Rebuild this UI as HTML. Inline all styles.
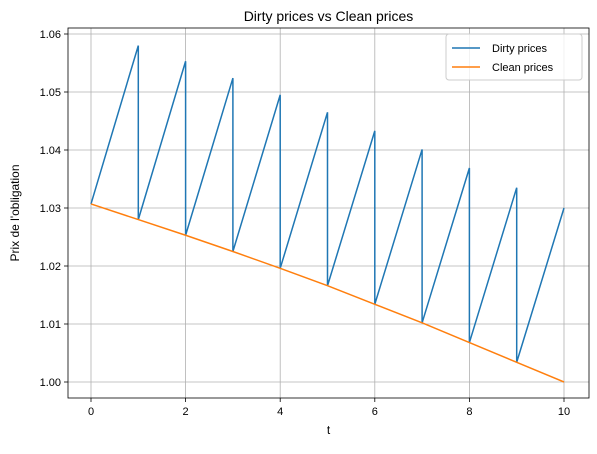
<!DOCTYPE html>
<html><head><meta charset="utf-8"><style>
body{margin:0;background:#fff;}
svg text{font-family:"Liberation Sans","DejaVu Sans",sans-serif;}
</style></head><body>
<svg id="chart" width="597" height="449">
</svg>
<script>
const tVals=[0,1,2,3,4,5,6,7,8,9,10];
const cleanPrices=[1.0307,1.0280,1.0253,1.0225,1.0196,1.0166,1.0134,1.0102,1.0068,1.0034,1.0000];
const dirtyPeaks=[1.0580,1.0553,1.0524,1.0495,1.0465,1.0433,1.0401,1.0369,1.0335,1.0300];
const xTicks=[0,2,4,6,8,10];
const yTicks=[1.00,1.01,1.02,1.03,1.04,1.05,1.06];

const L=68,R=589,T=28,B=398;
const X=v=>91+(v-0)*(564-91)/10;
const Y=v=>382-(v-1.00)*(382-34)/0.06;
const svg=document.getElementById('chart');
const NS='http://www.w3.org/2000/svg';
function mk(tag,attrs,parent){const e=document.createElementNS(NS,tag);for(const k in attrs)e.setAttribute(k,attrs[k]);(parent||svg).appendChild(e);return e;}

const grid=mk('g',{});


xTicks.forEach(t=>{
  mk('line',{x1:X(t),x2:X(t),y1:T,y2:B,stroke:'#b0b0b0','stroke-width':0.8},grid);
  mk('line',{x1:X(t),x2:X(t),y1:B,y2:B+4,stroke:'#000','stroke-width':0.8},grid);
  const tx=mk('text',{x:X(t),y:B+17,'text-anchor':'middle','font-size':11},grid);
  tx.textContent=t;
  
  
});
yTicks.forEach(v=>{
  mk('line',{x1:L,x2:R,y1:Y(v),y2:Y(v),stroke:'#b0b0b0','stroke-width':0.8},grid);
  mk('line',{x1:L-4,x2:L,y1:Y(v),y2:Y(v),stroke:'#000','stroke-width':0.8},grid);
  const tx=mk('text',{x:L-7,y:Y(v)+4,'text-anchor':'end','font-size':11},grid);
  tx.textContent=v.toFixed(2);
  
  
});

let d='';
for(let i=0;i<dirtyPeaks.length;i++){
  d+=(i===0?'M':'L')+X(tVals[i])+','+Y(cleanPrices[i])+'L'+X(tVals[i+1])+','+Y(dirtyPeaks[i]);
}
const dirty=mk('path',{d:d,fill:'none',stroke:'#1f77b4','stroke-width':1.5});


let d2='';
cleanPrices.forEach((v,i)=>{d2+=(i===0?'M':'L')+X(tVals[i])+','+Y(v);});
const clean=mk('path',{d:d2,fill:'none',stroke:'#ff7f0e','stroke-width':1.5});



const frame=mk('rect',{x:L,y:T,width:R-L,height:B-T,fill:'none',stroke:'#000','stroke-width':0.8});



const title=mk('text',{x:(L+R)/2,y:21,'text-anchor':'middle','font-size':14});
title.textContent='Dirty prices vs Clean prices';


const xl=mk('text',{x:(L+R)/2,y:434,'text-anchor':'middle','font-size':12});
xl.textContent='t';


const yl=mk('text',{x:0,y:0,'text-anchor':'middle','font-size':12,transform:'translate(19,'+((T+B)/2)+') rotate(-90)'});
yl.textContent="Prix de l'obligation";



const lg=mk('g',{});


mk('rect',{x:446,y:34,width:136,height:46,rx:3,fill:'#fff','fill-opacity':0.8,stroke:'#ccc'},lg);
[['Dirty prices','#1f77b4',48],['Clean prices','#ff7f0e',67]].forEach(([n,c,y])=>{
  const g=mk('g',{},lg);
  
  
  mk('line',{x1:452,x2:480,y1:y,y2:y,stroke:c,'stroke-width':1.5},g);
  const t=mk('text',{x:492,y:y+4,'font-size':11},g);t.textContent=n;
});
</script>
</body></html>
